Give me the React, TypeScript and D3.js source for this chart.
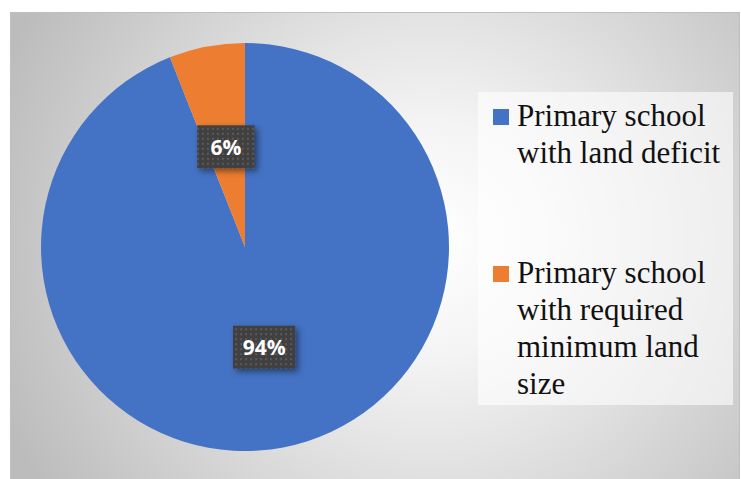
import React, { useEffect, useRef } from "react";
import * as d3 from "d3";

const categories = [
  "Primary school with land deficit",
  "Primary school with required minimum land size",
];
const values = [94, 6];
const labels = ["94%", "6%"];
const colors = ["#4472C4", "#ED7D31"];
const legendLines = [
  ["Primary school", "with land deficit"],
  ["Primary school", "with required", "minimum land", "size"],
];

const W = 741;
const H = 479;

export default function App() {
  const ref = useRef<SVGSVGElement | null>(null);

  useEffect(() => {
    const svg = d3.select(ref.current);
    svg.selectAll("*").remove();

    const defs = svg.append("defs");
    const grad = defs
      .append("radialGradient")
      .attr("id", "bg")
      .attr("gradientUnits", "userSpaceOnUse")
      .attr("cx", 430)
      .attr("cy", 240)
      .attr("r", 460);
    grad.append("stop").attr("offset", "0%").attr("stop-color", "#ffffff");
    grad.append("stop").attr("offset", "25%").attr("stop-color", "#f4f4f4");
    grad.append("stop").attr("offset", "100%").attr("stop-color", "#bcbcbc");

    const pat = defs
      .append("pattern")
      .attr("id", "dots")
      .attr("patternUnits", "userSpaceOnUse")
      .attr("width", 5)
      .attr("height", 5);
    pat.append("rect").attr("width", 5).attr("height", 5).attr("fill", "#404040");
    pat
      .append("rect")
      .attr("x", 1)
      .attr("y", 1)
      .attr("width", 2)
      .attr("height", 2)
      .attr("fill", "#5a5a5a");

    const filt = defs
      .append("filter")
      .attr("id", "shadow")
      .attr("x", "-30%")
      .attr("y", "-30%")
      .attr("width", "170%")
      .attr("height", "170%");
    filt
      .append("feDropShadow")
      .attr("dx", 3)
      .attr("dy", 3)
      .attr("stdDeviation", 3)
      .attr("flood-color", "#000")
      .attr("flood-opacity", 0.45);

    // background
    svg
      .append("rect")
      .attr("x", 10.5)
      .attr("y", 12.5)
      .attr("width", 729)
      .attr("height", 480)
      .attr("fill", "url(#bg)")
      .attr("stroke", "#bfbfbf")
      .attr("stroke-width", 1);

    const cx = 245;
    const cy = 247;
    const r = 204;

    const pie = d3
      .pie<number>()
      .sort(null)
      .value((d) => d);
    const arcs = pie(values);
    const arc = d3.arc<d3.PieArcDatum<number>>().innerRadius(0).outerRadius(r);

    const g = svg.append("g").attr("transform", `translate(${cx},${cy})`);
    g.selectAll("path.slice")
      .data(arcs)
      .join("path")
      .attr("class", "slice")
      .attr("d", arc)
      .attr("fill", (_, i) => colors[i]);

    // data labels
    arcs.forEach((a, i) => {
      const [x, y] = arc.centroid(a);
      const lg = g.append("g").attr("transform", `translate(${x},${y})`);
      const box = lg.append("rect").attr("fill", "url(#dots)").attr("filter", "url(#shadow)");
      const t = lg
        .append("text")
        .attr("text-anchor", "middle")
        .attr("dominant-baseline", "central")
        .attr("fill", "#ffffff")
        .attr("font-family", "'Open Sans', 'Noto Sans', sans-serif")
        .attr("font-weight", 700)
        .attr("font-size", 21)
        .text(labels[i]);
      const bb = (t.node() as SVGTextElement).getBBox();
      const bw = bb.width * 0.4 + 45;
      const bh = 43;
      box
        .attr("x", -bw / 2)
        .attr("y", -bh / 2)
        .attr("width", bw)
        .attr("height", bh);
    });

    // legend
    svg
      .append("rect")
      .attr("x", 478)
      .attr("y", 92)
      .attr("width", 255)
      .attr("height", 313)
      .attr("fill", "#ffffff")
      .attr("fill-opacity", 0.6);

    const legendStarts = [126, 283];
    const lineH = 37;
    categories.forEach((c, i) => {
      const base = legendStarts[i];
      svg
        .append("rect")
        .attr("x", 493)
        .attr("y", base - 17)
        .attr("width", 16)
        .attr("height", 16)
        .attr("fill", colors[i]);
      const t = svg
        .append("text")
        .style("font-family", "'Liberation Serif', 'Times New Roman', Times, serif")
        .attr("font-size", 31)
        .attr("fill", "#111")
        .attr("aria-label", c);
      legendLines[i].forEach((ln, j) => {
        t.append("tspan")
          .attr("x", 517)
          .attr("y", base + j * lineH)
          .text(ln);
      });
    });
  }, []);

  return (
    <svg
      ref={ref}
      width={W}
      height={H}
      style={{ position: "absolute", left: 0, top: 0, background: "#fff" }}
    />
  );
}
